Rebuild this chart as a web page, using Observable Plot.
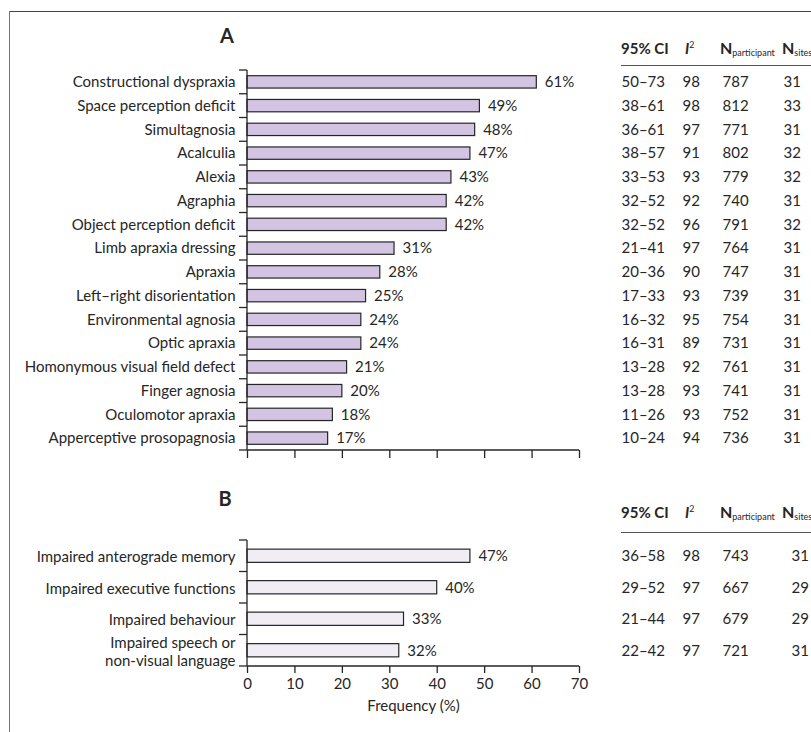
<!DOCTYPE html>
<html><head><meta charset="utf-8">
<script src="https://cdn.jsdelivr.net/npm/d3@7"></script>
<script src="https://cdn.jsdelivr.net/npm/@observablehq/plot@0.6"></script>
<style>
body{margin:0;background:#fff;font-family:Lato, sans-serif;color:#262626}
#wrap{position:relative;width:811px;height:732px;overflow:hidden;background:#fff}
.frameTop{position:absolute;left:9px;top:11px;width:802px;height:0;border-top:1.5px solid #8f1f45}
.frameLeft{position:absolute;left:9px;top:11px;width:0;height:721px;border-left:1.5px solid #c0507a}
.panel{position:absolute;font-weight:700;font-size:20px;transform:translate(-50%,-50%)}
.hdr{position:absolute;font-size:15px;font-weight:700;white-space:nowrap;transform:translateY(-50%)}
.hdr .big{font-size:16px}
.hdr sub{font-size:9px;font-weight:400;vertical-align:-2px}
.hdr sup{font-size:9px;font-weight:400;vertical-align:6px}
.rule{position:absolute;left:621px;width:190px;height:0;border-top:1.5px solid #555}
.plot{position:absolute;left:0}
</style>
</head><body>
<div id="wrap">
  <div class="frameTop"></div>
  <div class="frameLeft"></div>
  <div class="panel" style="left:227px;top:35px">A</div>
  <div class="panel" style="left:225px;top:498px">B</div>
  <div class="hdr" style="left:621px;top:48px">95% CI</div>
  <div class="hdr" style="left:685px;top:48px"><i>I</i><sup>2</sup></div>
  <div class="hdr" style="left:720px;top:48px"><span class="big">N</span><sub>participant</sub></div>
  <div class="hdr" style="left:782px;top:48px"><span class="big">N</span><sub>sites</sub></div>
  <div class="rule" style="top:65px"></div>
  <div class="hdr" style="left:621px;top:512px">95% CI</div>
  <div class="hdr" style="left:685px;top:512px"><i>I</i><sup>2</sup></div>
  <div class="hdr" style="left:720px;top:512px"><span class="big">N</span><sub>participant</sub></div>
  <div class="hdr" style="left:782px;top:512px"><span class="big">N</span><sub>sites</sub></div>
  <div class="rule" style="top:532px"></div>
</div>
<script>
// ---- Panel A data ----
const catsA = ["Constructional dyspraxia","Space perception deficit","Simultagnosia","Acalculia","Alexia","Agraphia","Object perception deficit","Limb apraxia dressing","Apraxia","Left–right disorientation","Environmental agnosia","Optic apraxia","Homonymous visual field defect","Finger agnosia","Oculomotor apraxia","Apperceptive prosopagnosia"];
const valsA = [61,49,48,47,43,42,42,31,28,25,24,24,21,20,18,17];
const ciA = ["50–73","38–61","36–61","38–57","33–53","32–52","32–52","21–41","20–36","17–33","16–32","16–31","13–28","13–28","11–26","10–24"];
const i2A = [98,98,97,91,93,92,96,97,90,93,95,89,92,93,93,94];
const npA = [787,812,771,802,779,740,791,764,747,739,754,731,761,741,752,736];
const nsA = [31,33,31,32,32,31,32,31,31,31,31,31,31,31,31,31];
// ---- Panel B data ----
const catsB = ["Impaired anterograde memory","Impaired executive functions","Impaired behaviour","Impaired speech or\nnon-visual language"];
const valsB = [47,40,33,32];
const ciB = ["36–58","29–52","21–44","22–42"];
const i2B = [98,97,97,97];
const npB = [743,667,679,721];
const nsB = [31,29,29,31];
const xTicks = [0,10,20,30,40,50,60,70];

const ink = "#262626";
const rowsA = catsA.map((c,i)=>({cat:c, v:valsA[i], ci:ciA[i], i2:i2A[i], np:npA[i], ns:nsA[i]}));
const rowsB = catsB.map((c,i)=>({cat:c, v:valsB[i], ci:ciB[i], i2:i2B[i], np:npB[i], ns:nsB[i]}));

function bandAxis(cats) {
  return (index, scales) => {
    const {x, y} = scales;
    const bw = y.bandwidth();
    const step = cats.length > 1 ? y(cats[1]) - y(cats[0]) : bw;
    const x0 = x(0), x1 = x(xTicks[xTicks.length-1]);
    const bounds = cats.map(c => y(c) + bw/2 - step/2);
    bounds.push(y(cats[cats.length-1]) + bw/2 + step/2);
    const g = d3.create("svg:g").attr("stroke", ink).attr("fill","none").attr("stroke-width",1.3);
    g.append("line").attr("x1",x0).attr("x2",x0).attr("y1",bounds[0]).attr("y2",bounds[bounds.length-1]);
    bounds.forEach(b => g.append("line").attr("x1",x0-8).attr("x2",x0).attr("y1",b).attr("y2",b));
    const yb = bounds[bounds.length-1];
    g.append("line").attr("x1",x0).attr("x2",x1).attr("y1",yb).attr("y2",yb);
    return g.node();
  };
}

function tableMarks(rows, sitesDx) {
  const o = {y:"cat", frameAnchor:"right", textAnchor:"start", fill: ink};
  return [
    Plot.text(rows, {...o, text:"ci", dx:42}),
    Plot.text(rows, {...o, text:"i2", dx:103}),
    Plot.text(rows, {...o, text:"np", dx:143}),
    Plot.text(rows, {...o, text:"ns", dx:sitesDx})
  ];
}

const style = {fontFamily:"Lato, sans-serif", fontSize:"15px", color:ink, background:"transparent", overflow:"visible"};

const plotA = Plot.plot({
  width:811, height:470, marginLeft:247, marginRight:232, marginTop:70, marginBottom:20,
  style,
  x:{domain:[0,70]},
  y:{domain:catsA, paddingInner:0.48, paddingOuter:0.24, round:false},
  marks:[
    Plot.barX(rowsA, {x:"v", y:"cat", fill:"#d2c4e2", stroke:ink, strokeWidth:1.2}),
    Plot.text(rowsA, {x:"v", y:"cat", text:d=>d.v+"%", dx:8, textAnchor:"start", fill:ink}),
    Plot.axisY({tickSize:0, tickPadding:12, label:null}),
    Plot.axisX({ticks:xTicks, tickSize:8, tickFormat:()=>"", label:null, strokeWidth:1.3}),
    bandAxis(catsA),
    ...tableMarks(rowsA, 204)
  ]
});
plotA.classList.add("plot"); plotA.style.top = "0px";

const plotB = Plot.plot({
  width:811, height:262, marginLeft:247, marginRight:232, marginTop:70, marginBottom:66,
  style,
  x:{domain:[0,70]},
  y:{domain:catsB, paddingInner:0.58, paddingOuter:0.29, round:false},
  marks:[
    Plot.barX(rowsB, {x:"v", y:"cat", fill:"#f0edf5", stroke:ink, strokeWidth:1.2}),
    Plot.text(rowsB, {x:"v", y:"cat", text:d=>d.v+"%", dx:8, textAnchor:"start", fill:ink}),
    Plot.axisY({tickSize:0, tickPadding:12, label:null, lineHeight:1.2}),
    Plot.axisX({ticks:xTicks, tickSize:7, tickPadding:5, label:null, strokeWidth:1.3}),
    bandAxis(catsB),
    Plot.text(["Frequency (%)"], {frameAnchor:"bottom", dy:44, text:d=>d, fill:ink}),
    ...tableMarks(rowsB, 212)
  ]
});
plotB.classList.add("plot"); plotB.style.top = "470px";

const wrap = document.getElementById("wrap");
wrap.prepend(plotB);
wrap.prepend(plotA);
</script>
</body></html>
